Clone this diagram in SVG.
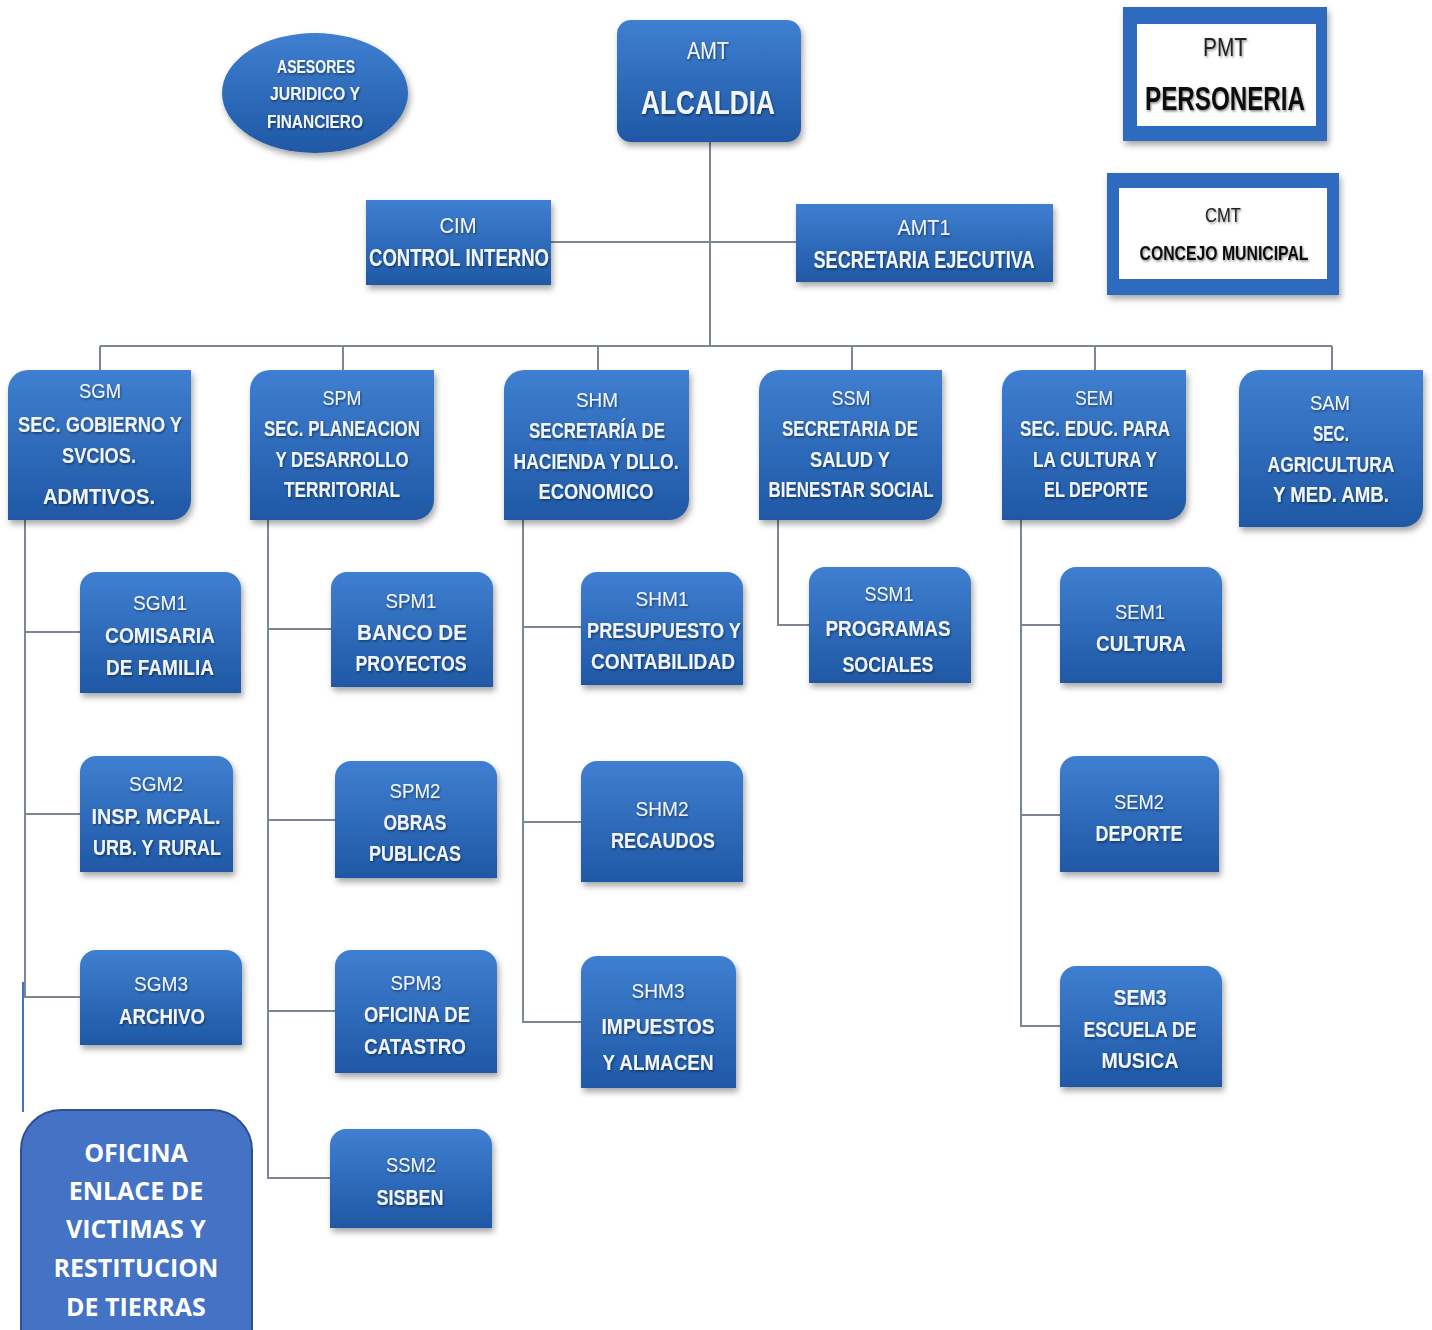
<svg xmlns="http://www.w3.org/2000/svg" width="1432" height="1330" viewBox="0 0 1432 1330">
<defs>
<linearGradient id="blue" x1="0" y1="0" x2="0" y2="1">
<stop offset="0" stop-color="#3f7fd1"/>
<stop offset="1" stop-color="#1f58a5"/>
</linearGradient>
<filter id="sh" x="-10%" y="-10%" width="125%" height="130%">
<feDropShadow dx="2" dy="4" stdDeviation="3" flood-color="#000" flood-opacity="0.35"/>
</filter>
<filter id="tsh" x="-5%" y="-20%" width="110%" height="150%">
<feDropShadow dx="1" dy="1.5" stdDeviation="0.8" flood-color="#000" flood-opacity="0.45"/>
</filter>
</defs>
<style>
.box{fill:url(#blue);filter:url(#sh)}
.ln{stroke:#7d8793;stroke-width:2;fill:none}
text{font-family:"Liberation Sans",Arial,sans-serif;fill:#f2f6fb;text-anchor:middle;dominant-baseline:central;lengthAdjust:spacingAndGlyphs}
.c{font-size:21px;font-weight:normal}
.n{font-size:22px;font-weight:bold}
.t{filter:url(#tsh)}
.of{font-family:"Open Sans","Liberation Sans",Arial,sans-serif;font-size:25px;font-weight:bold;fill:#fff}
</style>
<rect width="1432" height="1330" fill="#fff"/>

<g id="connectors">
<path class="ln" d="M710,142 V346"/>
<path class="ln" d="M551,242 H796"/>
<path class="ln" d="M100,346 H1332"/>
<path class="ln" d="M100,346 V370 M343,346 V370 M598,346 V370 M852,346 V370 M1095,346 V370 M1332,346 V370"/>
<path class="ln" d="M25,520 V998 M25,632 H80 M25,814 H80 M25,997 H80"/>
<path d="M23,982 V1112" stroke="#4472c4" stroke-width="2" fill="none"/>
<path class="ln" d="M268,520 V1178 H330 M268,629 H331 M268,820 H335 M268,1011 H335"/>
<path class="ln" d="M523,520 V1022 H581 M523,627 H581 M523,822 H581"/>
<path class="ln" d="M778,520 V625 H809"/>
<path class="ln" d="M1021,520 V1026 H1060 M1021,625 H1060 M1021,815 H1060"/>
</g>

<g id="asesores">
<ellipse cx="315" cy="93" rx="93" ry="60" fill="url(#blue)" filter="url(#sh)"/>
<g class="t">
<text x="316" y="66" style="font-size:19px;font-weight:bold" textLength="78" lengthAdjust="spacingAndGlyphs">ASESORES</text>
<text x="315" y="93" style="font-size:19px;font-weight:bold" textLength="90" lengthAdjust="spacingAndGlyphs">JURIDICO Y</text>
<text x="315" y="121" style="font-size:19px;font-weight:bold" textLength="96" lengthAdjust="spacingAndGlyphs">FINANCIERO</text>
</g>
</g>

<g id="alcaldia">
<rect class="box" x="617" y="20" width="184" height="122" rx="14"/>
<g class="t">
<text x="708" y="50" style="font-size:24px" textLength="42" lengthAdjust="spacingAndGlyphs">AMT</text>
<text x="708" y="102" style="font-size:34px;font-weight:bold" textLength="134" lengthAdjust="spacingAndGlyphs">ALCALDIA</text>
</g>
</g>

<g id="personeria">
<rect x="1123" y="7" width="204" height="134" fill="#2f6bbd" filter="url(#sh)"/>
<rect x="1137" y="24" width="179" height="102" fill="#fff"/>
<g class="t">
<text x="1225" y="47" style="font-size:25px;fill:#222" textLength="44" lengthAdjust="spacingAndGlyphs">PMT</text>
<text x="1225" y="98" style="font-size:34px;font-weight:bold;fill:#111" textLength="160" lengthAdjust="spacingAndGlyphs">PERSONERIA</text>
</g>
</g>

<g id="concejo">
<rect x="1107" y="173" width="232" height="122" fill="#2f6bbd" filter="url(#sh)"/>
<rect x="1119" y="188" width="208" height="91" fill="#fff"/>
<g class="t">
<text x="1223" y="215" style="font-size:20px;fill:#222" textLength="36" lengthAdjust="spacingAndGlyphs">CMT</text>
<text x="1224" y="253" style="font-size:20px;font-weight:bold;fill:#111" textLength="169" lengthAdjust="spacingAndGlyphs">CONCEJO  MUNICIPAL</text>
</g>
</g>

<g id="cim">
<rect class="box" x="366" y="200" width="185" height="85"/>
<g class="t">
<text class="c" x="458" y="225" style="font-size:22px" textLength="37" lengthAdjust="spacingAndGlyphs">CIM</text>
<text x="459" y="258" style="font-size:23px;font-weight:bold" textLength="180" lengthAdjust="spacingAndGlyphs">CONTROL INTERNO</text>
</g>
</g>

<g id="amt1">
<rect class="box" x="796" y="204" width="257" height="78"/>
<g class="t">
<text class="c" x="924" y="227" style="font-size:22px" textLength="53" lengthAdjust="spacingAndGlyphs">AMT1</text>
<text x="924" y="260" style="font-size:23px;font-weight:bold" textLength="221" lengthAdjust="spacingAndGlyphs">SECRETARIA EJECUTIVA</text>
</g>
</g>

<g id="sgm">
<path class="box" d="M28,370 H191 V500 A20 20 0 0 1 171,520 H8 V390 A20 20 0 0 1 28,370 Z"/>
<g class="t">
<text class="c" x="100" y="390" textLength="42" lengthAdjust="spacingAndGlyphs">SGM</text>
<text class="n" x="100" y="424" textLength="164" lengthAdjust="spacingAndGlyphs">SEC. GOBIERNO Y</text>
<text class="n" x="99" y="455" textLength="74" lengthAdjust="spacingAndGlyphs">SVCIOS.</text>
<text class="n" x="99" y="496" textLength="112" lengthAdjust="spacingAndGlyphs">ADMTIVOS.</text>
</g>
</g>

<g id="spm">
<path class="box" d="M270,370 H434 V500 A20 20 0 0 1 414,520 H250 V390 A20 20 0 0 1 270,370 Z"/>
<g class="t">
<text class="c" x="342" y="397" textLength="39" lengthAdjust="spacingAndGlyphs">SPM</text>
<text class="n" x="342" y="428" textLength="156" lengthAdjust="spacingAndGlyphs">SEC. PLANEACION</text>
<text class="n" x="342" y="459" textLength="133" lengthAdjust="spacingAndGlyphs">Y DESARROLLO</text>
<text class="n" x="342" y="489" textLength="116" lengthAdjust="spacingAndGlyphs">TERRITORIAL</text>
</g>
</g>

<g id="shm">
<path class="box" d="M524,370 H689 V500 A20 20 0 0 1 669,520 H504 V390 A20 20 0 0 1 524,370 Z"/>
<g class="t">
<text class="c" x="597" y="399" textLength="42" lengthAdjust="spacingAndGlyphs">SHM</text>
<text class="n" x="597" y="430" textLength="136" lengthAdjust="spacingAndGlyphs">SECRETARÍA DE</text>
<text class="n" x="596" y="461" textLength="165" lengthAdjust="spacingAndGlyphs">HACIENDA Y DLLO.</text>
<text class="n" x="596" y="491" textLength="115" lengthAdjust="spacingAndGlyphs">ECONOMICO</text>
</g>
</g>

<g id="ssm">
<path class="box" d="M779,370 H942 V500 A20 20 0 0 1 922,520 H759 V390 A20 20 0 0 1 779,370 Z"/>
<g class="t">
<text class="c" x="851" y="397" textLength="39" lengthAdjust="spacingAndGlyphs">SSM</text>
<text class="n" x="850" y="428" textLength="136" lengthAdjust="spacingAndGlyphs">SECRETARIA DE</text>
<text class="n" x="850" y="459" textLength="80" lengthAdjust="spacingAndGlyphs">SALUD Y</text>
<text class="n" x="851" y="489" textLength="165" lengthAdjust="spacingAndGlyphs">BIENESTAR SOCIAL</text>
</g>
</g>

<g id="sem">
<path class="box" d="M1022,370 H1186 V500 A20 20 0 0 1 1166,520 H1002 V390 A20 20 0 0 1 1022,370 Z"/>
<g class="t">
<text class="c" x="1094" y="397" textLength="38" lengthAdjust="spacingAndGlyphs">SEM</text>
<text class="n" x="1095" y="428" textLength="150" lengthAdjust="spacingAndGlyphs">SEC. EDUC. PARA</text>
<text class="n" x="1095" y="459" textLength="124" lengthAdjust="spacingAndGlyphs">LA CULTURA Y</text>
<text class="n" x="1096" y="489" textLength="104" lengthAdjust="spacingAndGlyphs">EL DEPORTE</text>
</g>
</g>

<g id="sam">
<path class="box" d="M1259,370 H1423 V507 A20 20 0 0 1 1403,527 H1239 V390 A20 20 0 0 1 1259,370 Z"/>
<g class="t">
<text class="c" x="1330" y="402" textLength="40" lengthAdjust="spacingAndGlyphs">SAM</text>
<text class="n" x="1331" y="433" textLength="36" lengthAdjust="spacingAndGlyphs">SEC.</text>
<text class="n" x="1331" y="464" textLength="127" lengthAdjust="spacingAndGlyphs">AGRICULTURA</text>
<text class="n" x="1331" y="494" textLength="116" lengthAdjust="spacingAndGlyphs">Y MED. AMB.</text>
</g>
</g>

<g id="sgm1">
<path class="box" d="M80,693 V588 A16 16 0 0 1 96,572 H225 A16 16 0 0 1 241,588 V693 Z"/>
<g class="t">
<text class="c" x="160" y="602" textLength="54" lengthAdjust="spacingAndGlyphs">SGM1</text>
<text class="n" x="160" y="635" textLength="110" lengthAdjust="spacingAndGlyphs">COMISARIA</text>
<text class="n" x="160" y="667" textLength="108" lengthAdjust="spacingAndGlyphs">DE FAMILIA</text>
</g>
</g>

<g id="sgm2">
<path class="box" d="M80,872 V772 A16 16 0 0 1 96,756 H217 A16 16 0 0 1 233,772 V872 Z"/>
<g class="t">
<text class="c" x="156" y="783" textLength="54" lengthAdjust="spacingAndGlyphs">SGM2</text>
<text class="n" x="156" y="816" textLength="129" lengthAdjust="spacingAndGlyphs">INSP. MCPAL.</text>
<text class="n" x="157" y="847" textLength="128" lengthAdjust="spacingAndGlyphs">URB. Y RURAL</text>
</g>
</g>

<g id="sgm3">
<path class="box" d="M80,1045 V966 A16 16 0 0 1 96,950 H226 A16 16 0 0 1 242,966 V1045 Z"/>
<g class="t">
<text class="c" x="161" y="983" textLength="54" lengthAdjust="spacingAndGlyphs">SGM3</text>
<text class="n" x="162" y="1016" textLength="86" lengthAdjust="spacingAndGlyphs">ARCHIVO</text>
</g>
</g>

<g id="spm1">
<path class="box" d="M331,687 V588 A16 16 0 0 1 347,572 H477 A16 16 0 0 1 493,588 V687 Z"/>
<g class="t">
<text class="c" x="411" y="600" textLength="51" lengthAdjust="spacingAndGlyphs">SPM1</text>
<text class="n" x="412" y="632" textLength="110" lengthAdjust="spacingAndGlyphs">BANCO DE</text>
<text class="n" x="411" y="663" textLength="111" lengthAdjust="spacingAndGlyphs">PROYECTOS</text>
</g>
</g>

<g id="spm2">
<path class="box" d="M335,878 V777 A16 16 0 0 1 351,761 H481 A16 16 0 0 1 497,777 V878 Z"/>
<g class="t">
<text class="c" x="415" y="790" textLength="51" lengthAdjust="spacingAndGlyphs">SPM2</text>
<text class="n" x="415" y="822" textLength="63" lengthAdjust="spacingAndGlyphs">OBRAS</text>
<text class="n" x="415" y="853" textLength="92" lengthAdjust="spacingAndGlyphs">PUBLICAS</text>
</g>
</g>

<g id="spm3">
<path class="box" d="M335,1073 V966 A16 16 0 0 1 351,950 H481 A16 16 0 0 1 497,966 V1073 Z"/>
<g class="t">
<text class="c" x="416" y="982" textLength="51" lengthAdjust="spacingAndGlyphs">SPM3</text>
<text class="n" x="417" y="1014" textLength="106" lengthAdjust="spacingAndGlyphs">OFICINA DE</text>
<text class="n" x="415" y="1046" textLength="102" lengthAdjust="spacingAndGlyphs">CATASTRO</text>
</g>
</g>

<g id="ssm2">
<path class="box" d="M330,1228 V1145 A16 16 0 0 1 346,1129 H476 A16 16 0 0 1 492,1145 V1228 Z"/>
<g class="t">
<text class="c" x="411" y="1164" textLength="50" lengthAdjust="spacingAndGlyphs">SSM2</text>
<text class="n" x="410" y="1197" textLength="67" lengthAdjust="spacingAndGlyphs">SISBEN</text>
</g>
</g>

<g id="shm1">
<path class="box" d="M581,685 V588 A16 16 0 0 1 597,572 H727 A16 16 0 0 1 743,588 V685 Z"/>
<g class="t">
<text class="c" x="662" y="598" textLength="53" lengthAdjust="spacingAndGlyphs">SHM1</text>
<text class="n" x="664" y="630" textLength="154" lengthAdjust="spacingAndGlyphs">PRESUPUESTO Y</text>
<text class="n" x="663" y="661" textLength="144" lengthAdjust="spacingAndGlyphs">CONTABILIDAD</text>
</g>
</g>

<g id="shm2">
<path class="box" d="M581,882 V777 A16 16 0 0 1 597,761 H727 A16 16 0 0 1 743,777 V882 Z"/>
<g class="t">
<text class="c" x="662" y="808" textLength="53" lengthAdjust="spacingAndGlyphs">SHM2</text>
<text class="n" x="663" y="840" textLength="104" lengthAdjust="spacingAndGlyphs">RECAUDOS</text>
</g>
</g>

<g id="shm3">
<path class="box" d="M581,1088 V972 A16 16 0 0 1 597,956 H720 A16 16 0 0 1 736,972 V1088 Z"/>
<g class="t">
<text class="c" x="658" y="990" textLength="53" lengthAdjust="spacingAndGlyphs">SHM3</text>
<text class="n" x="658" y="1026" textLength="113" lengthAdjust="spacingAndGlyphs">IMPUESTOS</text>
<text class="n" x="658" y="1062" textLength="111" lengthAdjust="spacingAndGlyphs">Y ALMACEN</text>
</g>
</g>

<g id="ssm1">
<path class="box" d="M809,683 V583 A16 16 0 0 1 825,567 H955 A16 16 0 0 1 971,583 V683 Z"/>
<g class="t">
<text class="c" x="889" y="593" textLength="49" lengthAdjust="spacingAndGlyphs">SSM1</text>
<text class="n" x="888" y="628" textLength="125" lengthAdjust="spacingAndGlyphs">PROGRAMAS</text>
<text class="n" x="888" y="664" textLength="91" lengthAdjust="spacingAndGlyphs">SOCIALES</text>
</g>
</g>

<g id="sem1">
<path class="box" d="M1060,683 V583 A16 16 0 0 1 1076,567 H1206 A16 16 0 0 1 1222,583 V683 Z"/>
<g class="t">
<text class="c" x="1140" y="611" textLength="50" lengthAdjust="spacingAndGlyphs">SEM1</text>
<text class="n" x="1141" y="643" textLength="90" lengthAdjust="spacingAndGlyphs">CULTURA</text>
</g>
</g>

<g id="sem2">
<path class="box" d="M1060,872 V772 A16 16 0 0 1 1076,756 H1203 A16 16 0 0 1 1219,772 V872 Z"/>
<g class="t">
<text class="c" x="1139" y="801" textLength="50" lengthAdjust="spacingAndGlyphs">SEM2</text>
<text class="n" x="1139" y="833" textLength="87" lengthAdjust="spacingAndGlyphs">DEPORTE</text>
</g>
</g>

<g id="sem3">
<path class="box" d="M1060,1087 V982 A16 16 0 0 1 1076,966 H1206 A16 16 0 0 1 1222,982 V1087 Z"/>
<g class="t">
<text class="n" x="1140" y="997" textLength="53" lengthAdjust="spacingAndGlyphs">SEM3</text>
<text class="n" x="1140" y="1029" textLength="113" lengthAdjust="spacingAndGlyphs">ESCUELA DE</text>
<text class="n" x="1140" y="1060" textLength="77" lengthAdjust="spacingAndGlyphs">MUSICA</text>
</g>
</g>

<g id="oficina">
<path d="M21,1332 V1150 A40 40 0 0 1 61,1110 H212 A40 40 0 0 1 252,1150 V1332 Z" fill="#4472c4" stroke="#2f528f" stroke-width="2"/>
<text class="of" x="136" y="1152">OFICINA</text>
<text class="of" x="136" y="1190">ENLACE DE</text>
<text class="of" x="136" y="1228">VICTIMAS Y</text>
<text class="of" x="136" y="1267">RESTITUCION</text>
<text class="of" x="136" y="1306">DE TIERRAS</text>
</g>
</svg>
